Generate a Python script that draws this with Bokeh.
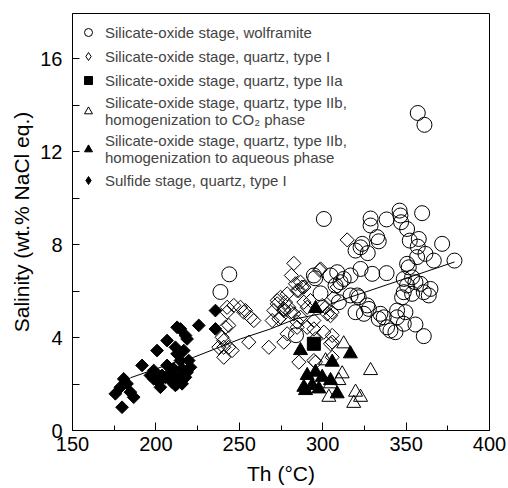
import numpy as np
from bokeh.plotting import figure
from bokeh.models import Range1d, FixedTicker, Legend, LegendItem
from bokeh.embed import file_html
from bokeh.resources import INLINE

# ---- data (Th in degC, salinity in wt.% NaCl eq.) ----
wolf_th = [328.7, 328.7, 338.3, 346.1, 346.6, 347.0, 350.6, 359.6, 323.7, 319.7,
           327.0, 332.6, 333.6, 352.2, 357.6, 357.0, 371.6, 361.6, 356.6, 366.6,
           379.0, 350.6, 351.6, 322.7, 329.7, 338.3, 308.7, 316.7, 312.6, 348.6,
           353.6, 355.6, 358.6, 350.6, 348.6, 347.6, 353.6, 360.6, 364.6, 363.6,
           321.6, 319.7, 324.7, 327.7, 336.6, 344.6, 349.6, 344.6, 338.6, 340.6,
           343.6, 348.6, 355.6, 360.6, 300.7, 322.7, 294.7, 304.7, 244.0, 238.7,
           295.5, 298.7, 307.7, 309.7, 310.7, 320.7, 326.7, 333.6, 357.0, 361.0,
           284.0, 316.7, 334.6]
wolf_sal = [9.12, 8.82, 9.08, 9.46, 9.25, 8.96, 8.67, 9.35, 8.03, 7.74,
            7.63, 8.32, 8.14, 8.17, 8.24, 7.91, 8.03, 7.60, 7.46, 7.31,
            7.31, 7.17, 7.02, 6.95, 6.74, 6.77, 6.81, 6.67, 6.52, 6.52,
            6.59, 6.38, 6.31, 6.24, 5.95, 5.73, 5.88, 5.95, 6.09, 5.81,
            5.73, 5.09, 5.02, 5.23, 4.87, 5.16, 5.09, 4.87, 4.44, 4.30,
            4.23, 4.59, 4.56, 4.06, 9.10, 7.88, 6.67, 6.67, 6.72, 5.96,
            6.55, 5.90, 6.24, 5.52, 6.38, 5.81, 5.38, 4.80, 13.66, 13.15,
            4.10, 5.81, 5.02]

q1_th = [282.7, 281.2, 298.2, 286.7, 287.7, 284.7, 274.7, 277.7, 272.7, 279.7,
         270.7, 242.7, 246.7, 250.7, 252.7, 256.7, 258.7, 253.7, 243.7, 239.7,
         240.7, 245.7, 240.7, 242.7, 241.7, 240.7, 243.7, 237.7, 288.7, 290.7,
         299.7, 302.7, 306.7, 308.7, 294.7, 282.7, 284.7, 274.7, 269.7, 283.7,
         285.7, 272.7, 276.7, 273.7, 280.7, 286.7, 267.7, 255.7, 276.7, 285.7,
         294.7, 295.7, 295.7, 278.7, 276.7, 284.7, 278.7, 300.7, 305.7, 304.7,
         304.7, 314.7, 298.7, 288.7, 292.7, 301.7, 305.7, 290.7, 305.7, 294.7,
         305.7]
q1_sal = [7.19, 6.67, 6.90, 6.38, 6.17, 6.02, 5.73, 5.52, 5.45, 5.30,
          5.16, 5.30, 5.38, 5.30, 5.09, 4.87, 4.73, 5.16, 4.52, 4.01,
          3.58, 3.44, 3.15, 5.09, 4.44, 3.87, 3.58, 3.58, 5.52, 5.30,
          5.38, 5.02, 5.73, 6.17, 4.73, 5.02, 4.66, 4.87, 4.73, 6.31,
          6.02, 5.59, 5.23, 4.80, 5.09, 4.87, 3.58, 3.80, 3.80, 2.94,
          4.37, 3.94, 2.94, 5.88, 5.16, 4.44, 4.16, 4.23, 4.09, 3.73,
          4.94, 8.20, 6.95, 6.17, 5.59, 5.30, 5.09, 4.44, 3.80, 3.01,
          3.15]

q2a_th = [294.7]
q2a_sal = [3.73]

q2b_co2_th = [312.6, 328.7, 311.7, 309.7, 304.7, 303.7, 319.7, 322.7, 318.6, 301.7]
q2b_co2_sal = [3.73, 2.58, 2.44, 2.15, 2.01, 1.43, 1.65, 1.43, 1.17, 3.00]

q2b_aq_th = [286.7, 305.7, 316.6, 290.7, 295.7, 299.7, 304.7, 288.7, 293.7, 308.7,
             295.7, 289.7, 297.7]
q2b_aq_sal = [3.44, 2.94, 3.30, 2.37, 2.51, 2.29, 2.15, 1.86, 1.94, 1.58,
              5.25, 1.72, 1.79]

sulf_th = [235.7, 225.7, 214.7, 217.7, 235.7, 206.7, 200.7, 211.7, 212.7, 214.7,
           216.7, 191.7, 196.7, 198.7, 201.7, 205.7, 208.7, 209.7, 211.7, 215.7,
           217.7, 220.7, 219.7, 215.7, 180.7, 182.7, 178.7, 184.7, 175.7, 186.7,
           179.7, 202.7, 198.7, 212.7, 218.7, 210.7, 206.7, 213.7, 218.7, 212.7,
           203.7]
sulf_sal = [5.16, 4.52, 4.37, 4.09, 4.37, 3.87, 3.44, 3.58, 3.30, 3.01,
            3.44, 2.80, 2.37, 2.22, 2.08, 2.29, 2.44, 2.08, 1.94, 2.01,
            2.29, 2.72, 3.01, 2.65, 2.22, 2.01, 1.86, 1.65, 1.58, 1.43,
            1.00, 1.86, 2.58, 4.44, 3.94, 2.65, 2.80, 2.29, 2.51, 2.01,
            2.37]

trend_th = [184.8, 211.7, 222.7, 250.7, 268.7, 283.7, 298.7, 304.7, 379.0]
trend_sal = [2.27, 2.94, 3.15, 3.94, 4.37, 4.80, 5.02, 5.45, 7.25]

x_ticks = [150, 200, 250, 300, 350, 400]
x_minor = [175, 225, 275, 325, 375]
y_ticks = [0, 4, 8, 12, 16]
y_minor = [2, 6, 10, 14]

labels = [
    "Silicate-oxide stage, wolframite",
    "Silicate-oxide stage, quartz, type I",
    "Silicate-oxide stage, quartz, type IIa",
    "Silicate-oxide stage, quartz, type IIb,\nhomogenization to CO\u2082 phase",
    "Silicate-oxide stage, quartz, type IIb,\nhomogenization to aqueous phase",
    "Sulfide stage, quartz, type I",
]

FONT = "Liberation Sans"

p = figure(width=508, height=488, x_range=Range1d(150, 400), y_range=Range1d(0, 17.94),
           output_backend="svg", toolbar_location=None,
           min_border_left=72, min_border_right=19, min_border_top=13, min_border_bottom=58)
p.xgrid.visible = False
p.ygrid.visible = False
p.outline_line_color = "black"
p.outline_line_width = 1
p.outline_line_alpha = 1
p.background_fill_color = "white"
p.border_fill_color = "white"

r_wolf = p.scatter(wolf_th, wolf_sal, marker="circle", size=15, fill_color=None,
                   line_color="black", line_width=1)
r_q1 = p.scatter(q1_th, q1_sal, marker="square", angle=np.pi / 4, size=10, fill_color=None,
                 line_color="black", line_width=1)
r_co2 = p.scatter(q2b_co2_th, q2b_co2_sal, marker="triangle", size=14, fill_color=None,
                  line_color="black", line_width=1)
r_aq = p.scatter(q2b_aq_th, q2b_aq_sal, marker="triangle", size=14, fill_color="black",
                 line_color="black", line_width=1)
r_2a = p.scatter(q2a_th, q2a_sal, marker="square", size=13, fill_color="black",
                 line_color="black", line_width=1)
r_sulf = p.scatter(sulf_th, sulf_sal, marker="square", angle=np.pi / 4, size=9,
                   fill_color="black", line_color="black", line_width=1)
p.line(trend_th, trend_sal, line_color="black", line_width=1)

# legend-only glyphs for the diamond symbols (NaN point: nothing drawn in the plot)
leg_q1 = p.scatter([np.nan], [np.nan], marker="diamond", size=10, fill_color=None,
                   line_color="black", line_width=1)
leg_sulf = p.scatter([np.nan], [np.nan], marker="diamond", size=10, fill_color="black",
                     line_color="black", line_width=1)

legend = Legend(items=[
    LegendItem(label=labels[0], renderers=[r_wolf]),
    LegendItem(label=labels[1], renderers=[leg_q1]),
    LegendItem(label=labels[2], renderers=[r_2a]),
    LegendItem(label=labels[3], renderers=[r_co2]),
    LegendItem(label=labels[4], renderers=[r_aq]),
    LegendItem(label=labels[5], renderers=[leg_sulf]),
], location=(6, 240), margin=0, padding=0, spacing=4, glyph_width=20, glyph_height=20,
    label_standoff=7, label_text_font=FONT, label_text_font_size="15px",
    border_line_color=None, background_fill_alpha=0)
p.add_layout(legend)

for ax in (p.xaxis[0], p.yaxis[0]):
    ax.major_label_text_font = FONT
    ax.major_label_text_font_size = "20px"
    ax.major_label_text_color = "black"
    ax.axis_label_text_font = FONT
    ax.axis_label_text_font_size = "21px"
    ax.axis_label_text_font_style = "normal"
    ax.axis_label_text_color = "black"
    ax.axis_line_color = "black"
    ax.major_tick_line_color = "black"
    ax.minor_tick_line_color = "black"
    ax.major_tick_out = 0
    ax.minor_tick_out = 0

p.xaxis.ticker = FixedTicker(ticks=x_ticks, minor_ticks=x_minor)
p.yaxis.ticker = FixedTicker(ticks=y_ticks, minor_ticks=y_minor)
p.xaxis.axis_label = "Th (\u00b0C)"
p.yaxis.axis_label = "Salinity (wt.% NaCl eq.)"
p.xaxis.major_tick_in = 8
p.xaxis.minor_tick_in = 5
p.yaxis.major_tick_in = 7
p.yaxis.minor_tick_in = 7
p.xaxis.major_label_standoff = 6
p.yaxis.major_label_standoff = 10
p.xaxis.axis_label_standoff = 8
p.yaxis.axis_label_standoff = 4

open("out.html", "w").write(file_html(p, INLINE))
